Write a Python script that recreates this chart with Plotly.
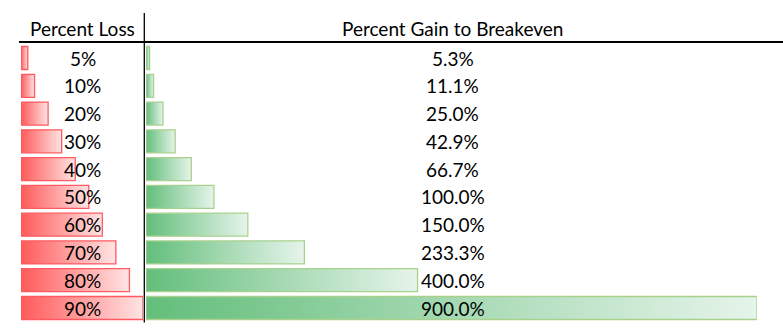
import plotly.graph_objects as go

loss = [5, 10, 20, 30, 40, 50, 60, 70, 80, 90]
gain = [5.3, 11.1, 25.0, 42.9, 66.7, 100.0, 150.0, 233.3, 400.0, 900.0]
loss_labels = ["5%", "10%", "20%", "30%", "40%", "50%", "60%", "70%", "80%", "90%"]
gain_labels = ["5.3%", "11.1%", "25.0%", "42.9%", "66.7%", "100.0%", "150.0%", "233.3%", "400.0%", "900.0%"]
headers = ["Percent Loss", "Percent Gain to Breakeven"]

W, H = 783, 334
FONT = "Lato"
FS = 19
HALF = 0.414  # half bar height in row units

RED = "#FF5A5A"
RED_LIGHT = "#FFE4E4"
RED_BORDER = "#FF5A5F"
GREEN = "#63BE7B"
GREEN_LIGHT = "#E6F4EA"
GREEN_BORDER = "#A9D18E"

fig = go.Figure()

def add_bar(val, row, xaxis, c0, c1, border):
    fig.add_trace(go.Scatter(
        x=[0, val, val, 0, 0],
        y=[row - HALF, row - HALF, row + HALF, row + HALF, row - HALF],
        xaxis=xaxis, yaxis="y",
        mode="lines", fill="toself",
        fillgradient=dict(type="horizontal", colorscale=[[0, c0], [1, c1]]),
        line=dict(color=border, width=1.3),
        hoverinfo="skip", showlegend=False,
    ))

for i, v in enumerate(loss):
    add_bar(v, i, "x", RED, RED_LIGHT, RED_BORDER)
for i, v in enumerate(gain):
    add_bar(v, i, "x2", GREEN, GREEN_LIGHT, GREEN_BORDER)

# row labels
for i, t in enumerate(loss_labels):
    fig.add_annotation(x=82.5 / W, y=i, xref="paper", yref="y", text=t,
                       showarrow=False, font=dict(family=FONT, size=FS, color="black"),
                       xanchor="center", yanchor="middle")
for i, t in enumerate(gain_labels):
    fig.add_annotation(x=452.5 / W, y=i, xref="paper", yref="y", text=t,
                       showarrow=False, font=dict(family=FONT, size=FS, color="black"),
                       xanchor="center", yanchor="middle")

# headers
fig.add_annotation(x=82 / W, y=1 - 28.5 / H, xref="paper", yref="paper", text=headers[0],
                   showarrow=False, font=dict(family=FONT, size=FS, color="black"),
                   xanchor="center", yanchor="middle")
fig.add_annotation(x=452.5 / W, y=1 - 28.5 / H, xref="paper", yref="paper", text=headers[1],
                   showarrow=False, font=dict(family=FONT, size=FS, color="black"),
                   xanchor="center", yanchor="middle")

# table lines
fig.add_shape(type="line", xref="paper", yref="paper",
              x0=19 / W, x1=1, y0=1 - 42 / H, y1=1 - 42 / H,
              line=dict(color="black", width=2.2))
fig.add_shape(type="line", xref="paper", yref="paper",
              x0=144.3 / W, x1=144.3 / W, y0=1 - 13 / H, y1=1 - 322.5 / H,
              line=dict(color="black", width=1.3))

pitch = (308 - 58) / 9.0
y_top = -58 / pitch
y_bot = 9 + (H - 308) / pitch

fig.update_layout(
    width=W, height=H,
    margin=dict(l=0, r=0, t=0, b=0),
    paper_bgcolor="white", plot_bgcolor="white",
    xaxis=dict(domain=[21 / W, 143 / W], range=[0, 90], visible=False, fixedrange=True),
    xaxis2=dict(domain=[146 / W, 757 / W], range=[0, 900], visible=False, fixedrange=True),
    yaxis=dict(domain=[0, 1], range=[y_bot, y_top], visible=False, fixedrange=True),
    showlegend=False,
)

fig.write_html("out.html")
